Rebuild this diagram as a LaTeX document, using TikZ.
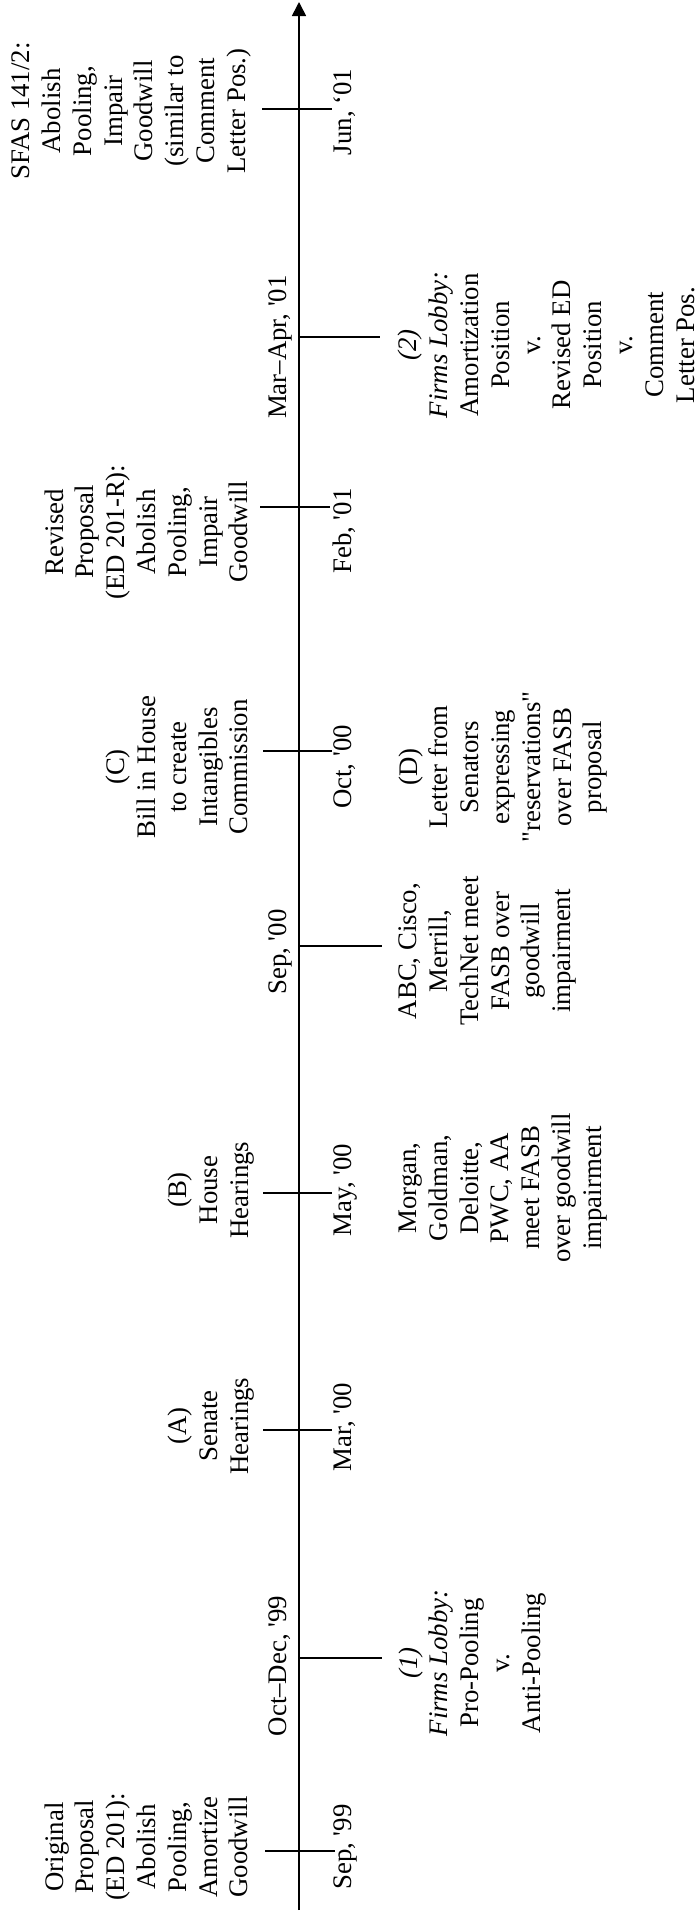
\documentclass[tikz,border=0pt]{standalone}
\usepackage{fontspec}
\newfontfamily\tnr{Liberation Serif}
\usetikzlibrary{arrows.meta}
\begin{document}
\begin{tikzpicture}[x=1pt,y=-1pt,
  txt/.style={font=\tnr\fontsize{26.8}{30.8}\selectfont, inner sep=0pt, align=center, rotate=90},
  datelbl/.style={txt, anchor=base},
  tickline/.style={line width=1.6pt},
  axisline/.style={line width=1.6pt, -{Triangle[length=14pt,width=14pt]}}]
\fill[white] (0,0) rectangle (696,1915);
\useasboundingbox (0,0) rectangle (696,1915);

% axis
\coordinate (axb) at (299,1910);
\coordinate (axt) at (299,2);
\draw[axisline] (axb) -- (axt);

% ticks
\coordinate (t1a) at (265,1851); \coordinate (t1b) at (335,1851);
\coordinate (t2a) at (299,1658); \coordinate (t2b) at (382,1658);
\coordinate (t3a) at (263,1430); \coordinate (t3b) at (332,1430);
\coordinate (t4a) at (263,1193); \coordinate (t4b) at (332,1193);
\coordinate (t5a) at (299,946);  \coordinate (t5b) at (382,946);
\coordinate (t6a) at (263,751);  \coordinate (t6b) at (332,751);
\coordinate (t7a) at (260,507);  \coordinate (t7b) at (330,507);
\coordinate (t8a) at (299,337);  \coordinate (t8b) at (380,337);
\coordinate (t9a) at (262,109);  \coordinate (t9b) at (332,109);
\foreach \i in {1,...,9} {\draw[tickline] (t\i a) -- (t\i b);}

% date labels
\node[datelbl] (d1) at (351,1847) {Sep, '99};
\node[datelbl] (d2) at (286,1666) {Oct–Dec, '99};
\node[datelbl] (d3) at (351,1427) {Mar, '00};
\node[datelbl] (d4) at (351,1190) {May, '00};
\node[datelbl] (d5) at (286,952) {Sep, '00};
\node[datelbl] (d6) at (351,767) {Oct, '00};
\node[datelbl] (d7) at (351,531) {Feb, '01};
\node[datelbl] (d8) at (286,347) {Mar–Apr, '01};
\node[datelbl] (d9) at (351,112) {Jun, ‘01};

% left events
\node[txt] (orig) at (146.4,1847) {Original\\Proposal\\(ED 201):\\Abolish\\Pooling,\\Amortize\\Goodwill};
\node[txt] (senA) at (210.9,1426) {(A)\\Senate\\Hearings};
\node[txt] (houB) at (210.9,1190) {(B)\\House\\Hearings};
\node[txt] (billC) at (177.2,767) {(C)\\Bill in House\\to create\\Intangibles\\Commission};
\node[txt] (rev) at (146.4,532) {Revised\\Proposal\\(ED 201-R):\\Abolish\\Pooling,\\Impair\\Goodwill};
\node[txt] (sfas) at (131.5,111) {SFAS 141/2:\\Abolish\\Pooling,\\Impair\\Goodwill\\(similar to\\Comment\\Letter Pos.)};

% right events
\node[txt] (lob1) at (472.3,1663) {\itshape (1)\\\itshape Firms Lobby:\\Pro-Pooling\\v.\\Anti-Pooling};
\node[txt] (morg) at (503,1188) {Morgan,\\Goldman,\\Deloitte,\\PWC, AA\\meet FASB\\over goodwill\\impairment};
\node[txt] (abc) at (487.6,951) {ABC, Cisco,\\Merrill,\\TechNet meet\\FASB over\\goodwill\\impairment};
\node[txt] (letD) at (503,767) {(D)\\Letter from\\Senators\\expressing\\"reservations"\\over FASB\\proposal};
\node[txt] (lob2) at (546.4,345) {\itshape (2)\\\itshape Firms Lobby:\\Amortization\\Position\\v.\\Revised ED\\Position\\v.\\Comment\\Letter Pos.};
\end{tikzpicture}
\end{document}
